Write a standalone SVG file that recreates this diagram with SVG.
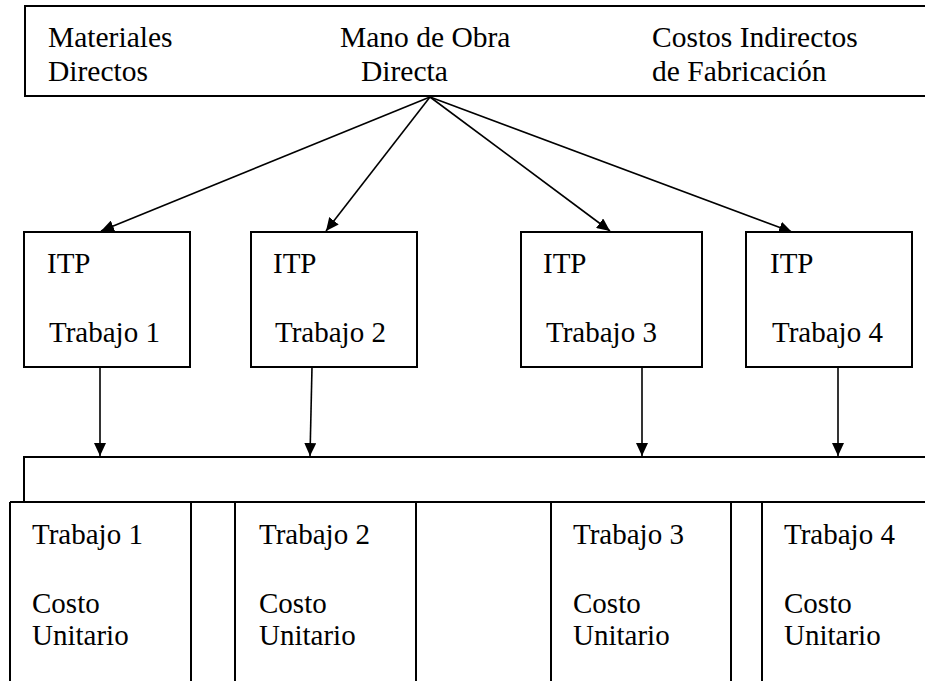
<svg xmlns="http://www.w3.org/2000/svg" width="925" height="681" viewBox="0 0 925 681">
<style>
text{font-family:"Liberation Serif","Times New Roman",serif;font-size:29px;fill:#000}
.top text{font-size:29.5px}
.box{fill:#fff;stroke:#000;stroke-width:2}
.ln{fill:none;stroke:#000;stroke-width:2}
.arr{fill:none;stroke:#000;stroke-width:1.6;marker-end:url(#ah)}
</style>
<defs>
<marker id="ah" markerUnits="userSpaceOnUse" markerWidth="14" markerHeight="12" refX="13" refY="6" orient="auto">
<path d="M0,0 L13,6 L0,12 Z" fill="#000"/>
</marker>
</defs>
<rect width="925" height="681" fill="#fff"/>
<g id="costs" class="top">
<rect class="box" x="25" y="6" width="910" height="90"/>
<text x="48" y="47">Materiales</text>
<text x="48" y="81">Directos</text>
<text x="340" y="47">Mano de Obra</text>
<text x="361" y="81">Directa</text>
<text x="652" y="47">Costos Indirectos</text>
<text x="652" y="81">de Fabricación</text>
</g>
<g id="itp1">
<rect class="box" x="24" y="232" width="166" height="135"/>
<text x="47" y="273">ITP</text>
<text x="49" y="342">Trabajo 1</text>
</g>
<g id="itp2">
<rect class="box" x="251" y="232" width="166" height="135"/>
<text x="273" y="273">ITP</text>
<text x="275" y="342">Trabajo 2</text>
</g>
<g id="itp3">
<rect class="box" x="521" y="232" width="181" height="135"/>
<text x="543" y="273">ITP</text>
<text x="546" y="342">Trabajo 3</text>
</g>
<g id="itp4">
<rect class="box" x="746" y="232" width="166" height="135"/>
<text x="770" y="273">ITP</text>
<text x="772" y="342">Trabajo 4</text>
</g>
<g id="ledger">
<path class="ln" d="M24,502 V457 H930 M10,502 H930"/>
<g id="col1">
<path class="ln" d="M10,502 V690 M191,502 V690"/>
<text x="32" y="544">Trabajo 1</text>
<text x="32" y="613">Costo</text>
<text x="32" y="645">Unitario</text>
</g>
<g id="col2">
<path class="ln" d="M235,502 V690 M416,502 V690"/>
<text x="259" y="544">Trabajo 2</text>
<text x="259" y="613">Costo</text>
<text x="259" y="645">Unitario</text>
</g>
<g id="col3">
<path class="ln" d="M551,502 V690 M731,502 V690"/>
<text x="573" y="544">Trabajo 3</text>
<text x="573" y="613">Costo</text>
<text x="573" y="645">Unitario</text>
</g>
<g id="col4">
<path class="ln" d="M762,502 V690"/>
<text x="784" y="544">Trabajo 4</text>
<text x="784" y="613">Costo</text>
<text x="784" y="645">Unitario</text>
</g>
</g>
<g id="connectors">
<line class="arr" x1="430" y1="97" x2="101" y2="231"/>
<line class="arr" x1="430" y1="97" x2="326" y2="231"/>
<line class="arr" x1="430" y1="97" x2="610" y2="231"/>
<line class="arr" x1="430" y1="97" x2="792" y2="232"/>
<line class="arr" x1="100" y1="367" x2="100" y2="456"/>
<line class="arr" x1="312" y1="367" x2="310" y2="456"/>
<line class="arr" x1="642" y1="367" x2="642" y2="456"/>
<line class="arr" x1="838" y1="367" x2="838" y2="456"/>
</g>
</svg>
